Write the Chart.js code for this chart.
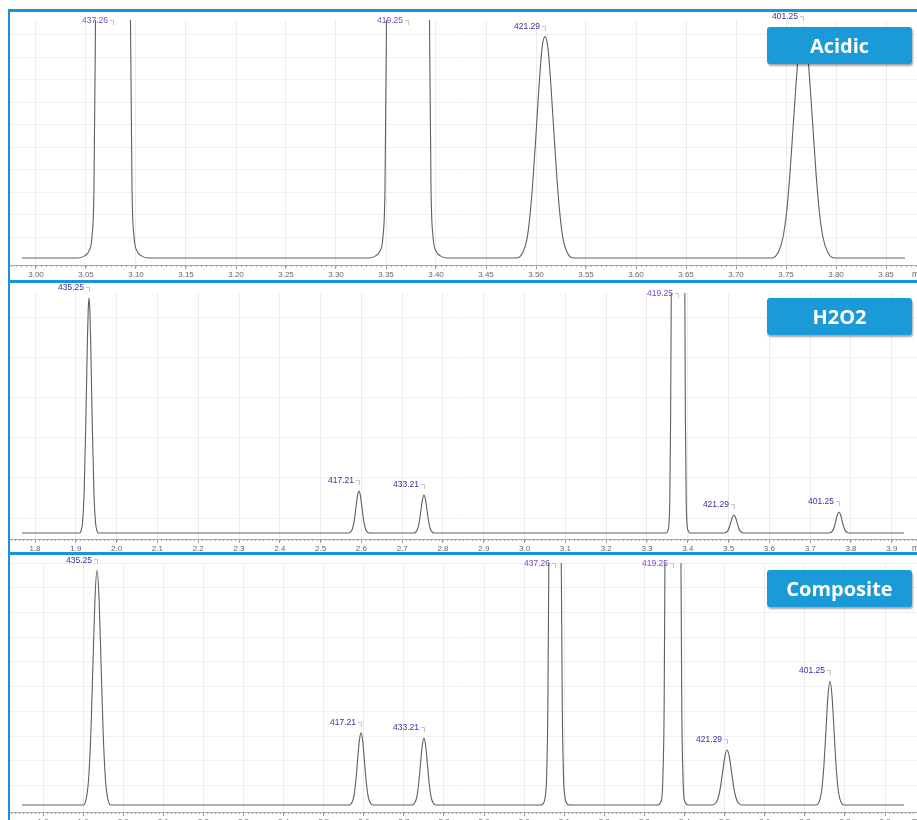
<!DOCTYPE html>
<html>
<head>
<meta charset="utf-8">
<script src="https://cdn.jsdelivr.net/npm/chart.js@4.4.1/dist/chart.umd.min.js"></script>
<style>
html, body { margin: 0; padding: 0; background: #fff; }
#page { position: relative; width: 917px; height: 820px; overflow: hidden; background: #fff; }
canvas { position: absolute; left: 10px; }
.rule { position: absolute; background: #1b93d8; }
.badge { position: absolute; left: 767px; width: 145px; height: 37px; background: #1a9ad6; color: #fff;
  font: bold 20px "Open Sans", sans-serif; text-align: center; line-height: 37px; border-radius: 3px;
  box-shadow: 1px 2px 2px rgba(0,0,0,0.35); z-index: 5; }
</style>
</head>
<body>
<div id="page">
  <canvas id="acidicChart" width="907" height="268" style="top:12px"></canvas>
  <canvas id="h2o2Chart" width="907" height="269" style="top:283px"></canvas>
  <canvas id="compositeChart" width="907" height="265" style="top:555px"></canvas>

  <div class="rule" style="left:8px;top:9px;width:909px;height:3px"></div>
  <div class="rule" style="left:8px;top:9px;width:2px;height:811px"></div>
  <div class="rule" style="left:8px;top:280px;width:909px;height:3px"></div>
  <div class="rule" style="left:8px;top:552px;width:909px;height:3px"></div>

  <div class="badge" style="top:27px">Acidic</div>
  <div class="badge" style="top:298px">H2O2</div>
  <div class="badge" style="top:570px">Composite</div>
</div>

<script>
// ---- Acidic trace (retention time, % signal) ----
var acidicTime = [2.986,
  3.042, 3.049, 3.053, 3.056, 3.058, 3.0595, 3.062, 3.077, 3.092, 3.0945, 3.096, 3.098, 3.101, 3.105, 3.112,
  3.333, 3.340, 3.344, 3.347, 3.349, 3.3505, 3.353, 3.372, 3.391, 3.3935, 3.395, 3.397, 3.400, 3.404, 3.411,
  3.481, 3.487, 3.491, 3.494, 3.497, 3.500, 3.503, 3.506, 3.509, 3.512, 3.515, 3.518, 3.521, 3.524, 3.527, 3.531, 3.537,
  3.736, 3.7425, 3.7468, 3.7505, 3.7538, 3.757, 3.7604, 3.7637, 3.767, 3.7703, 3.7736, 3.777, 3.7802, 3.7835, 3.7872, 3.7915, 3.798,
  3.869];
var acidicSignal = [0,
  0, 1, 3, 9, 30, 100, 250, 400, 250, 100, 30, 9, 3, 1, 0,
  0, 1, 3, 9, 30, 100, 250, 400, 250, 100, 30, 9, 3, 1, 0,
  0, 2.5, 8, 18, 33, 52, 72, 88, 93, 88, 72, 52, 33, 18, 8, 2.5, 0,
  0, 2.6, 8.3, 18.8, 34.6, 54.4, 75.2, 92, 97, 92, 75.2, 54.4, 34.6, 18.8, 8.3, 2.6, 0,
  0];
var acidicPeakLabels = ['437.26', '419.25', '421.29', '401.25'];
var acidicPeakTime = [3.077, 3.372, 3.509, 3.767];
var acidicPeakTop = [400, 400, 93, 97];
var acidicTicks = [3.00, 3.05, 3.10, 3.15, 3.20, 3.25, 3.30, 3.35, 3.40, 3.45, 3.50, 3.55, 3.60, 3.65, 3.70, 3.75, 3.80, 3.85];
var acidicTickLabels = ['3.00', '3.05', '3.10', '3.15', '3.20', '3.25', '3.30', '3.35', '3.40', '3.45', '3.50', '3.55', '3.60', '3.65', '3.70', '3.75', '3.80', '3.85'];

// ---- H2O2 trace ----
var h2o2Time = [1.768,
  1.910, 1.9124, 1.9164, 1.9204, 1.9244, 1.9284, 1.9304, 1.9324, 1.9344, 1.9364, 1.9404, 1.9444, 1.9484, 1.9524, 1.955,
  2.569, 2.5755, 2.5792, 2.5829, 2.5866, 2.5903, 2.594, 2.5977, 2.6014, 2.6051, 2.6088, 2.6125, 2.619,
  2.7284, 2.7349, 2.7386, 2.7423, 2.746, 2.7497, 2.7534, 2.7571, 2.7608, 2.7645, 2.7682, 2.7719, 2.7784,
  3.347, 3.351, 3.354, 3.356, 3.358, 3.3595, 3.362, 3.376, 3.390, 3.3928, 3.394, 3.396, 3.398, 3.401, 3.405,
  3.488, 3.4945, 3.4982, 3.5019, 3.5056, 3.5093, 3.513, 3.5167, 3.5204, 3.5241, 3.5278, 3.5315, 3.538,
  3.7456, 3.7521, 3.7558, 3.7595, 3.7632, 3.7669, 3.7706, 3.7743, 3.778, 3.7817, 3.7854, 3.7891, 3.7956,
  3.930];
var h2o2Signal = [0,
  0, 0.7, 4.3, 17, 45, 80, 93, 98, 93, 80, 45, 17, 4.3, 0.7, 0,
  0, 0.8, 2.4, 5.7, 10.6, 15.4, 17.5, 15.4, 10.6, 5.7, 2.4, 0.8, 0,
  0, 0.7, 2.1, 5.1, 9.6, 13.9, 15.8, 13.9, 9.6, 5.1, 2.1, 0.7, 0,
  0, 1, 4, 15, 50, 100, 250, 400, 250, 100, 50, 15, 4, 1, 0,
  0, 0.3, 1.0, 2.4, 4.6, 6.6, 7.5, 6.6, 4.6, 2.4, 1.0, 0.3, 0,
  0, 0.4, 1.2, 2.8, 5.3, 7.7, 8.75, 7.7, 5.3, 2.8, 1.2, 0.4, 0,
  0];
var h2o2PeakLabels = ['435.25', '417.21', '433.21', '419.25', '421.29', '401.25'];
var h2o2PeakTime = [1.9324, 2.594, 2.7534, 3.376, 3.513, 3.7706];
var h2o2PeakTop = [98, 17.5, 15.8, 400, 7.5, 8.75];
var h2o2Ticks = [1.8, 1.9, 2.0, 2.1, 2.2, 2.3, 2.4, 2.5, 2.6, 2.7, 2.8, 2.9, 3.0, 3.1, 3.2, 3.3, 3.4, 3.5, 3.6, 3.7, 3.8, 3.9];
var h2o2TickLabels = ['1.8', '1.9', '2.0', '2.1', '2.2', '2.3', '2.4', '2.5', '2.6', '2.7', '2.8', '2.9', '3.0', '3.1', '3.2', '3.3', '3.4', '3.5', '3.6', '3.7', '3.8', '3.9'];

// ---- Composite trace ----
var compositeTime = [1.7476,
  1.9007, 1.9097, 1.9147, 1.9197, 1.9247, 1.9297, 1.9347, 1.9397, 1.9447, 1.9497, 1.9547, 1.9597, 1.9687,
  2.5634, 2.5713, 2.5756, 2.58, 2.5843, 2.5887, 2.593, 2.5974, 2.6017, 2.606, 2.6104, 2.6148, 2.6226,
  2.7204, 2.7283, 2.7326, 2.737, 2.7413, 2.7457, 2.750, 2.7544, 2.7587, 2.763, 2.7674, 2.7718, 2.7796,
  3.042, 3.049, 3.053, 3.056, 3.059, 3.0615, 3.065, 3.077, 3.089, 3.0925, 3.095, 3.098, 3.101, 3.105, 3.112,
  3.333, 3.340, 3.344, 3.346, 3.349, 3.351, 3.355, 3.371, 3.387, 3.391, 3.393, 3.396, 3.398, 3.402, 3.409,
  3.4686, 3.4785, 3.484, 3.4895, 3.495, 3.5005, 3.506, 3.5115, 3.517, 3.5225, 3.528, 3.5335, 3.5434,
  3.7286, 3.7376, 3.7426, 3.7476, 3.7526, 3.7576, 3.7626, 3.7676, 3.7726, 3.7776, 3.7826, 3.7876, 3.7966,
  3.947];
var compositeSignal = [0,
  0, 4.3, 13.1, 31.5, 58.9, 85.6, 97, 85.6, 58.9, 31.5, 13.1, 4.3, 0,
  0, 1.3, 4.0, 9.7, 18.1, 26.3, 29.8, 26.3, 18.1, 9.7, 4.0, 1.3, 0,
  0, 1.2, 3.7, 9.0, 16.8, 24.4, 27.7, 24.4, 16.8, 9.0, 3.7, 1.2, 0,
  0, 1, 4, 12, 40, 100, 250, 400, 250, 100, 40, 12, 4, 1, 0,
  0, 1, 4, 12, 40, 100, 250, 400, 250, 100, 40, 12, 4, 1, 0,
  0, 1.0, 3.1, 7.4, 13.8, 20.0, 22.7, 20.0, 13.8, 7.4, 3.1, 1.0, 0,
  0, 2.3, 6.9, 16.6, 31.1, 45.2, 51.2, 45.2, 31.1, 16.6, 6.9, 2.3, 0,
  0];
var compositePeakLabels = ['435.25', '417.21', '433.21', '437.26', '419.25', '421.29', '401.25'];
var compositePeakTime = [1.9347, 2.593, 2.750, 3.077, 3.371, 3.506, 3.7626];
var compositePeakTop = [97, 29.8, 27.7, 400, 400, 22.7, 51.2];
var compositeTicks = h2o2Ticks;
var compositeTickLabels = h2o2TickLabels;

// draws minor ruler ticks, the unit and the peak m/z labels
var tracePlugin = {
    id: 'trace',
    afterDraw: function (chart) {
        var o = chart.options.plugins.trace;
        var ctx = chart.ctx, xs = chart.scales.x, ys = chart.scales.y, area = chart.chartArea;
        ctx.save();
        ctx.strokeStyle = '#a5a5a5';
        ctx.lineWidth = 1;
        ctx.beginPath();
        for (var k = Math.ceil(xs.min / o.minor); k * o.minor <= xs.max; k++) {
            var px = Math.round(xs.getPixelForValue(k * o.minor)) + 0.5;
            ctx.moveTo(px, area.bottom);
            ctx.lineTo(px, area.bottom + 2);
        }
        ctx.stroke();

        ctx.font = '8.5px "Liberation Sans", Arial, sans-serif';
        ctx.textBaseline = 'middle';
        ctx.fillStyle = '#666';
        ctx.textAlign = 'left';
        ctx.fillText('min', area.right - 5, area.bottom + 10);

        o.labels.forEach(function (lab, i) {
            var x = xs.getPixelForValue(o.times[i]);
            var clipped = o.tops[i] > 100;
            var y = clipped ? area.top + 1 : ys.getPixelForValue(o.tops[i]) - 10;
            ctx.fillStyle = clipped ? '#7b4cc0' : '#34349c';
            ctx.textAlign = 'right';
            ctx.fillText(lab, x - 5, y);
            ctx.strokeStyle = '#c4c4c4';
            ctx.beginPath();
            ctx.moveTo(x - 3, Math.round(y) - 0.5);
            ctx.lineTo(Math.round(x) + 0.5, Math.round(y) - 0.5);
            ctx.lineTo(Math.round(x) + 0.5, Math.round(y) + 4);
            ctx.stroke();
        });
        ctx.restore();
    }
};

function buildTrace(id, cfg) {
    var points = [];
    for (var i = 0; i < cfg.time.length; i++) {
        points.push({ x: cfg.time[i], y: cfg.signal[i] });
    }
    return new Chart(document.getElementById(id), {
        type: 'line',
        data: {
            datasets: [{
                data: points,
                borderColor: '#5f5f5f',
                borderWidth: 1.1,
                pointRadius: 0,
                cubicInterpolationMode: 'monotone',
                fill: false
            }]
        },
        options: {
            responsive: false,
            animation: false,
            layout: { padding: { top: cfg.padTop, left: 0, right: 0, bottom: 0 } },
            plugins: {
                legend: { display: false },
                tooltip: { enabled: false },
                trace: { minor: cfg.minor, labels: cfg.peakLabels, times: cfg.peakTime, tops: cfg.peakTop }
            },
            scales: {
                x: {
                    type: 'linear',
                    min: cfg.xMin,
                    max: cfg.xMax,
                    afterBuildTicks: function (s) {
                        s.ticks = cfg.ticks.map(function (v) { return { value: v }; });
                    },
                    afterFit: function (s) { s.height = cfg.axisHeight; },
                    ticks: {
                        autoSkip: false,
                        maxRotation: 0,
                        padding: 1,
                        color: '#666',
                        font: { family: '"Liberation Sans", Arial, sans-serif', size: 8 },
                        callback: function (v, idx) { return cfg.tickLabels[idx]; }
                    },
                    grid: { color: '#ececec', tickColor: '#999', tickLength: 4 },
                    border: { display: true, color: '#a8a8a8' }
                },
                y: {
                    min: cfg.yMin,
                    max: 100,
                    afterBuildTicks: function (s) {
                        var t = [];
                        for (var v = cfg.gridFirst; v <= 100.5; v += cfg.gridStep) t.push({ value: v });
                        s.ticks = t;
                    },
                    afterFit: function (s) { s.width = 0; },
                    ticks: { display: false },
                    grid: { color: '#f0f0f0', drawTicks: false },
                    border: { display: false }
                }
            }
        },
        plugins: [tracePlugin]
    });
}

buildTrace('acidicChart', {
    time: acidicTime, signal: acidicSignal,
    peakLabels: acidicPeakLabels, peakTime: acidicPeakTime, peakTop: acidicPeakTop,
    ticks: acidicTicks, tickLabels: acidicTickLabels,
    xMin: 2.974, xMax: 3.881, yMin: -2.94, padTop: 8, axisHeight: 15,
    minor: 0.005, gridFirst: 8.7, gridStep: 9.45
});
buildTrace('h2o2Chart', {
    time: h2o2Time, signal: h2o2Signal,
    peakLabels: h2o2PeakLabels, peakTime: h2o2PeakTime, peakTop: h2o2PeakTop,
    ticks: h2o2Ticks, tickLabels: h2o2TickLabels,
    xMin: 1.7387, xMax: 3.9618, yMin: -2.5, padTop: 10, axisHeight: 13,
    minor: 0.01, gridFirst: 6.25, gridStep: 16.67
});
buildTrace('compositeChart', {
    time: compositeTime, signal: compositeSignal,
    peakLabels: compositePeakLabels, peakTime: compositePeakTime, peakTop: compositePeakTop,
    ticks: compositeTicks, tickLabels: compositeTickLabels,
    xMin: 1.7177, xMax: 3.9796, yMin: -2.9, padTop: 8, axisHeight: 8,
    minor: 0.01, gridFirst: 8.1, gridStep: 10.2
});
</script>
</body>
</html>
